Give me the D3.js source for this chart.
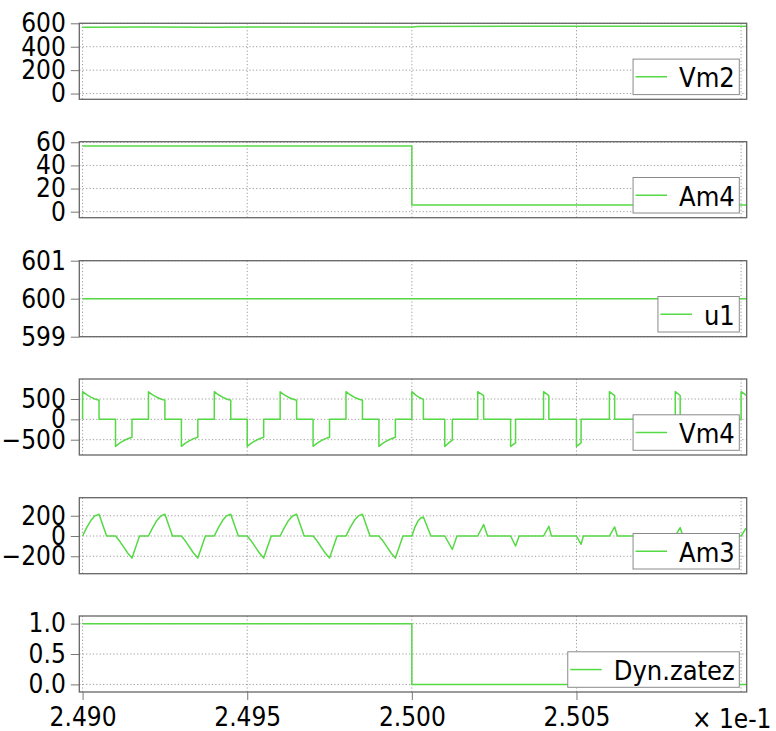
<!DOCTYPE html>
<html lang="en">
<head>
    <meta charset="UTF-8">
    <title>Scope traces</title>
    <script src="https://d3js.org/d3.v7.min.js"></script>
    <style>
        body {
            margin: 0;
            padding: 0;
            background-color: #ffffff;
        }
        svg text {
            font-family: "DejaVu Sans Condensed", "DejaVu Sans", sans-serif;
            font-stretch: condensed;
        }
        .grid line {
            stroke: #9a9a9a;
            stroke-width: 1;
            stroke-dasharray: 1.2, 2.2;
        }
    </style>
</head>
<body>
    <div id="chart"></div>
    <script>
        // time axis in units of 1e-1 s
        const xTicks = [2.490, 2.495, 2.500, 2.505];
        const xGrid = [2.490, 2.495, 2.500, 2.505, 2.510];

        const vm2 = [[2.4900, 567], [2.4920, 569], [2.4940, 567], [2.4960, 569], [2.4980, 568], [2.5000, 568],
            [2.5002, 573], [2.5040, 575], [2.5080, 574], [2.5102, 575]];

        const am4 = [[2.4900, 56.8], [2.5000, 56.8], [2.5000, 5.8], [2.5102, 5.8]];

        const u1 = [[2.4900, 600], [2.5102, 600]];

        const vm4 = [
            [2.4900, 0], [2.4900, 680], [2.490125, 605], [2.49025, 545], [2.490375, 500], [2.4905, 468], [2.4905, 0],
            [2.4910, 0], [2.4910, -665], [2.491125, -585], [2.49125, -525], [2.491375, -475], [2.4915, -440], [2.4915, 0],
            [2.4920, 0], [2.4920, 678], [2.492125, 603], [2.49225, 544], [2.492375, 499], [2.4925, 467], [2.4925, 0],
            [2.4930, 0], [2.4930, -664], [2.493125, -584], [2.49325, -524], [2.493375, -474], [2.4935, -441], [2.4935, 0],
            [2.4940, 0], [2.4940, 679], [2.494125, 604], [2.49425, 545], [2.494375, 500], [2.4945, 468], [2.4945, 0],
            [2.4950, 0], [2.4950, -665], [2.495125, -585], [2.49525, -525], [2.495375, -475], [2.4955, -440], [2.4955, 0],
            [2.4960, 0], [2.4960, 678], [2.496125, 603], [2.49625, 544], [2.496375, 499], [2.4965, 467], [2.4965, 0],
            [2.4970, 0], [2.4970, -664], [2.497125, -584], [2.49725, -524], [2.497375, -474], [2.4975, -441], [2.4975, 0],
            [2.4980, 0], [2.4980, 679], [2.498125, 604], [2.49825, 545], [2.498375, 500], [2.4985, 468], [2.4985, 0],
            [2.4990, 0], [2.4990, -665], [2.499125, -585], [2.49925, -525], [2.499375, -475], [2.4995, -440], [2.4995, 0],
            [2.5000, 0], [2.5000, 680], [2.50012, 595], [2.50024, 530], [2.50035, 490], [2.50035, 0],
            [2.5010, 0], [2.5010, -665], [2.50112, -580], [2.50123, -510], [2.50123, 0],
            [2.5020, 0], [2.5020, 680], [2.50218, 581], [2.50218, 0],
            [2.5030, 0], [2.5030, -665], [2.50315, -576], [2.50315, 0],
            [2.5040, 0], [2.5040, 680], [2.50416, 585], [2.50416, 0],
            [2.5050, 0], [2.5050, -665], [2.50514, -580], [2.50514, 0],
            [2.5060, 0], [2.5060, 680], [2.50616, 585], [2.50616, 0],
            [2.5070, 0], [2.5070, -665], [2.50714, -580], [2.50714, 0],
            [2.5080, 0], [2.5080, 680], [2.50815, 585], [2.50815, 0],
            [2.5090, 0], [2.5090, -665], [2.50914, -580], [2.50914, 0],
            [2.5100, 0], [2.5100, 680], [2.51015, 595]
        ];

        const am3 = [
            [2.4900, 0], [2.490125, 82], [2.49025, 152], [2.490375, 199], [2.4905, 215], [2.49073, 0],
            [2.4910, 0], [2.491125, -50], [2.49125, -110], [2.491375, -170], [2.4915, -218], [2.49173, 0],
            [2.4920, 0], [2.492125, 81], [2.49225, 151], [2.492375, 198], [2.4925, 214], [2.49273, 0],
            [2.4930, 0], [2.493125, -50], [2.49325, -111], [2.493375, -171], [2.4935, -217], [2.49373, 0],
            [2.4940, 0], [2.494125, 82], [2.49425, 152], [2.494375, 199], [2.4945, 215], [2.49473, 0],
            [2.4950, 0], [2.495125, -50], [2.49525, -110], [2.495375, -170], [2.4955, -218], [2.49573, 0],
            [2.4960, 0], [2.496125, 81], [2.49625, 151], [2.496375, 198], [2.4965, 214], [2.49673, 0],
            [2.4970, 0], [2.497125, -50], [2.49725, -111], [2.497375, -171], [2.4975, -217], [2.49773, 0],
            [2.4980, 0], [2.498125, 82], [2.49825, 152], [2.498375, 199], [2.4985, 215], [2.49873, 0],
            [2.4990, 0], [2.499125, -50], [2.49925, -110], [2.499375, -170], [2.4995, -218], [2.49973, 0],
            [2.5000, 0], [2.50009, 85], [2.50018, 145], [2.50027, 178], [2.50035, 188], [2.50058, 0],
            [2.5010, 0], [2.50123, -132], [2.50137, 0],
            [2.5020, 0], [2.50218, 113], [2.50230, 0],
            [2.5030, 0], [2.50315, -99], [2.50326, 0],
            [2.5040, 0], [2.50416, 96], [2.50424, 0],
            [2.5050, 0], [2.50514, -82], [2.50521, 0],
            [2.5060, 0], [2.50616, 89], [2.50624, 0],
            [2.5070, 0], [2.50714, -80], [2.50721, 0],
            [2.5080, 0], [2.50815, 83], [2.50823, 0],
            [2.5090, 0], [2.50914, -78], [2.50921, 0],
            [2.5100, 0], [2.51015, 78]
        ];

        const dynZatez = [[2.4900, 1], [2.5000, 1], [2.5000, 0], [2.5102, 0]];

        const panels = [
            { name: "Vm2", data: vm2, top: 23.3, domain: [-49, 600], ticks: [0, 200, 400, 600], fmt: d3.format("d") },
            { name: "Am4", data: am4, top: 141.7, domain: [-5.2, 60.5], ticks: [0, 20, 40, 60], fmt: d3.format("d") },
            { name: "u1", data: u1, top: 260.7, domain: [599, 601], ticks: [599, 600, 601], fmt: d3.format("d") },
            { name: "Vm4", data: vm4, top: 379, domain: [-876, 991], ticks: [-500, 0, 500], fmt: d3.format("d") },
            { name: "Am3", data: am3, top: 497.7, domain: [-372, 378], ticks: [-200, 0, 200], fmt: d3.format("d") },
            { name: "Dyn.zatez", data: dynZatez, top: 616, domain: [-0.125, 1.126], ticks: [0, 0.5, 1], fmt: d3.format(".1f") }
        ];

        const width = 776;
        const height = 731;
        const plotLeft = 79.3;
        const plotRight = 746.7;
        const panelH = 76;
        const green = "#55d944";

        const svg = d3.select("#chart")
            .append("svg")
            .attr("width", width)
            .attr("height", height);

        const x = d3.scaleLinear().domain([2.4899, 2.51017]).range([plotLeft, plotRight]);

        panels.forEach((p, i) => {
            const y = d3.scaleLinear().domain(p.domain).range([p.top + panelH, p.top]);
            const g = svg.append("g");

            // grid
            const grid = g.append("g").attr("class", "grid");
            grid.selectAll(".hg")
                .data(p.ticks)
                .enter()
                .append("line")
                .attr("x1", plotLeft)
                .attr("x2", plotRight)
                .attr("y1", d => y(d))
                .attr("y2", d => y(d));
            grid.selectAll(".vg")
                .data(xGrid)
                .enter()
                .append("line")
                .attr("x1", d => x(d))
                .attr("x2", d => x(d))
                .attr("y1", p.top)
                .attr("y2", p.top + panelH);

            // trace
            const clipId = "clip" + i;
            svg.append("clipPath")
                .attr("id", clipId)
                .append("rect")
                .attr("x", plotLeft)
                .attr("y", p.top)
                .attr("width", plotRight - plotLeft)
                .attr("height", panelH);

            const line = d3.line()
                .x(d => x(d[0]))
                .y(d => y(d[1]));

            g.append("path")
                .datum(p.data)
                .attr("clip-path", `url(#${clipId})`)
                .attr("fill", "none")
                .attr("stroke", green)
                .attr("stroke-width", 1.5)
                .attr("stroke-linejoin", "round")
                .attr("d", line);

            // y axis
            const yAxis = d3.axisLeft(y).tickValues(p.ticks).tickFormat(p.fmt).tickSize(8.5).tickPadding(5);
            const ya = g.append("g")
                .attr("transform", `translate(${plotLeft},0)`)
                .call(yAxis);
            ya.select(".domain").remove();
            ya.selectAll(".tick line").attr("stroke", "#777");
            ya.selectAll(".tick text")
                .attr("fill", "#000")
                .style("font-size", "26px");

            // frame
            g.append("rect")
                .attr("x", plotLeft)
                .attr("y", p.top)
                .attr("width", plotRight - plotLeft)
                .attr("height", panelH)
                .attr("fill", "none")
                .attr("stroke", "#666")
                .attr("stroke-width", 1.3);

            // legend
            const leg = g.append("g");
            const legText = leg.append("text")
                .text(p.name)
                .style("font-size", "27px")
                .attr("fill", "#000");
            const tw = legText.node().getComputedTextLength();
            const boxW = 46 + tw + 4.5;
            const boxH = 35.5;
            const bx = plotRight - 7.4 - boxW;
            const by = p.top + panelH - 4.7 - boxH;
            leg.insert("rect", "text")
                .attr("x", bx)
                .attr("y", by)
                .attr("width", boxW)
                .attr("height", boxH)
                .attr("fill", "#fff")
                .attr("stroke", "#8a8a8a")
                .attr("stroke-width", 1);
            leg.insert("line", "text")
                .attr("x1", bx + 2.5)
                .attr("x2", bx + 34)
                .attr("y1", by + boxH / 2)
                .attr("y2", by + boxH / 2)
                .attr("stroke", green)
                .attr("stroke-width", 1.5);
            legText.attr("x", bx + 46).attr("y", by + 28.3);

            // x axis on last panel
            if (i === panels.length - 1) {
                const xAxis = d3.axisBottom(x).tickValues(xTicks).tickFormat(d3.format(".3f")).tickSize(8).tickPadding(8);
                const xa = g.append("g")
                    .attr("transform", `translate(0,${p.top + panelH})`)
                    .call(xAxis);
                xa.select(".domain").remove();
                xa.selectAll(".tick line").attr("stroke", "#777");
                xa.selectAll(".tick text")
                    .attr("fill", "#000")
                    .style("font-size", "26px");

                g.append("text")
                    .attr("x", 771.5)
                    .attr("y", 728)
                    .attr("text-anchor", "end")
                    .style("font-size", "26px")
                    .attr("fill", "#000")
                    .text("\u00d7 1e-1");
            }
        });
    </script>
</body>
</html>
